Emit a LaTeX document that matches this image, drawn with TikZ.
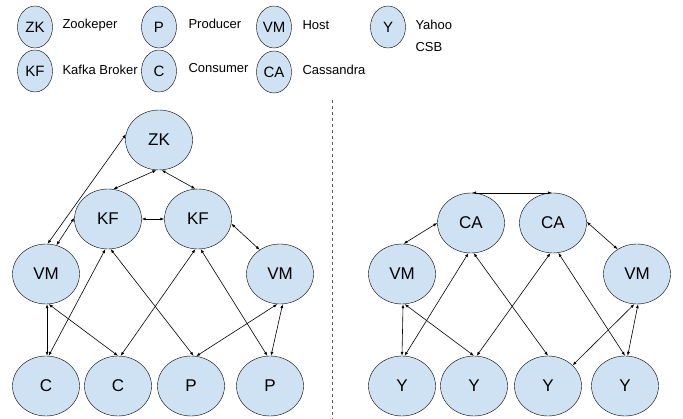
\documentclass[tikz,border=0pt]{standalone}
\usepackage{fontspec}
\setmainfont{Liberation Sans}
\usetikzlibrary{arrows.meta}
\usetikzlibrary{shapes.geometric}
\definecolor{nodeblue}{HTML}{CFE2F3}

\begin{document}
\begin{tikzpicture}
	[x=1pt,y=-1pt,
	 every node/.style={font=\fontsize{13}{15}\selectfont},
	 host/.style={ellipse, draw, fill=nodeblue, inner sep=0pt, minimum width=67pt, minimum height=60pt, font=\fontsize{17}{19}\selectfont},
	 key/.style={ellipse, draw, fill=nodeblue, inner sep=0pt, minimum width=35pt, minimum height=42pt, font=\fontsize{15}{17}\selectfont},
	 keytext/.style={anchor=west, align=left},
	 link/.style={{Latex[length=4pt,width=3pt]}-{Latex[length=4pt,width=3pt]}, line width=0.6pt}];
	\useasboundingbox (0,0) rectangle (683,419);

	%Legend
	\node[key] (kzk) at (35,27) {ZK};
	\node[key] (kkf) at (35,71) {KF};
	\node[key] (kp) at (159,27) {P};
	\node[key] (kc) at (159,71) {C};
	\node[key] (kvm) at (274,27) {VM};
	\node[key] (kca) at (274,72) {CA};
	\node[key] (ky) at (388,27) {Y};
	\node[keytext] (tzk) at (59,25) {Zookeper};
	\node[keytext] (tkf) at (59,70) {Kafka Broker};
	\node[keytext] (tp) at (185,24) {Producer};
	\node[keytext] (tc) at (185,68) {Consumer};
	\node[keytext] (tvm) at (299,25) {Host};
	\node[keytext] (tca) at (299,70) {Cassandra};
	\node[keytext, font=\fontsize{13}{22}\selectfont] (ty) at (412,36) {Yahoo\\CSB};

	%Separator
	\coordinate (sept) at (332,100);
	\coordinate (sepb) at (332,419);
	\draw[dashed, gray!70!black, line width=0.6pt] (sept) -- (sepb);

	%Kafka side
	\node[host] (zk) at (159,140) {ZK};
	\node[host] (kfa) at (108,219) {KF};
	\node[host] (kfb) at (198,219) {KF};
	\node[host] (vml) at (46,274) {VM};
	\node[host] (vmr) at (280,274) {VM};
	\node[host] (ca) at (46,386) {C};
	\node[host] (cb) at (118,386) {C};
	\node[host] (pa) at (191,386) {P};
	\node[host] (pb) at (270,386) {P};

	\draw[link] (zk.170) -- (vml.87);
	\draw[link] (vml.70) -- (kfa.178);
	\draw[link] (zk.265) -- (kfa.80);
	\draw[link] (zk.275) -- (kfb.95);
	\draw[link] (kfa.east) -- (kfb.west);
	\draw[link] (kfb.352) -- (vmr.130);
	\draw[link] (vml.272) -- (ca.88);
	\draw[link] (vml.275) -- (cb.90);
	\draw[link] (kfa.265) -- (ca.85);
	\draw[link] (kfa.275) -- (pa.85);
	\draw[link] (kfb.265) -- (cb.85);
	\draw[link] (kfb.275) -- (pb.95);
	\draw[link] (vmr.265) -- (pa.80);
	\draw[link] (vmr.275) -- (pb.88);

	%Cassandra side
	\node[host] (caa) at (471,223) {CA};
	\node[host] (cab) at (553,223) {CA};
	\node[host] (vmc) at (402,274) {VM};
	\node[host] (vmd) at (637,274) {VM};
	\node[host] (ya) at (402,386) {Y};
	\node[host] (yb) at (474,386) {Y};
	\node[host] (yc) at (548,386) {Y};
	\node[host] (yd) at (625,386) {Y};

	\draw[link] (caa.88) -- (cab.92);
	\draw[link] (caa.180) -- (vmc.87);
	\draw[link] (cab.2) -- (vmd.128);
	\draw[link] (vmc.272) -- (ya.90);
	\draw[link] (vmc.275) -- (yb.90);
	\draw[link] (caa.265) -- (ya.85);
	\draw[link] (caa.275) -- (yc.90);
	\draw[link] (cab.265) -- (yb.85);
	\draw[link] (cab.280) -- (yd.90);
	\draw[link] (vmd.265) -- (yc.40);
	\draw[link] (vmd.272) -- (yd.85);
\end{tikzpicture}
\end{document}
